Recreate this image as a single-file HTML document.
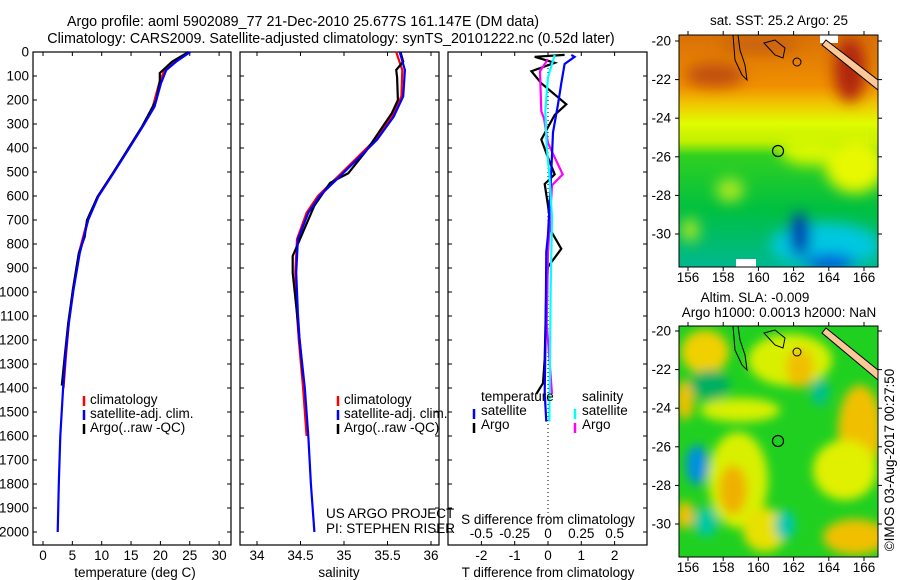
<!DOCTYPE html>
<html><head><meta charset="utf-8">
<style>
html,body{margin:0;padding:0;background:#fff;}
svg{display:block;font-family:"Liberation Sans",sans-serif;}
text{font-size:13.5px;fill:#000;}
</style></head>
<body>
<svg id="fig" width="900" height="580" viewBox="0 0 900 580" xmlns="http://www.w3.org/2000/svg">
<defs>
<filter id="blur1" x="-50%" y="-50%" width="200%" height="200%"><feGaussianBlur stdDeviation="7"/></filter>
<filter id="blur2" x="-50%" y="-50%" width="200%" height="200%"><feGaussianBlur stdDeviation="5"/></filter>
<clipPath id="clipm1"><rect x="679" y="35" width="199" height="232"/></clipPath>
<clipPath id="clipm2"><rect x="679" y="326" width="199" height="231"/></clipPath>
<linearGradient id="sstg" x1="0" y1="0" x2="0" y2="1">
<stop offset="0" stop-color="#d87008"/><stop offset="0.22" stop-color="#f09000"/>
<stop offset="0.3" stop-color="#f0c800"/><stop offset="0.38" stop-color="#e0fc00"/>
<stop offset="0.46" stop-color="#c0f000"/><stop offset="0.52" stop-color="#30d020"/>
<stop offset="0.75" stop-color="#00c040"/><stop offset="1" stop-color="#00b890"/>
</linearGradient>
</defs>
<text x="303" y="26" text-anchor="middle" style="font-size:14.3px">Argo profile: aoml 5902089_77 21-Dec-2010 25.677S 161.147E (DM data)</text>
<text x="331" y="43" text-anchor="middle" style="font-size:14.3px">Climatology: CARS2009. Satellite-adjusted climatology: synTS_20101222.nc (0.52d later)</text>

<!-- SST map -->
<g clip-path="url(#clipm1)">
<rect x="679" y="35" width="199" height="232" fill="url(#sstg)"/>
<g filter="url(#blur1)">
<ellipse cx="715" cy="75" rx="30" ry="12" fill="#c05010"/>
<ellipse cx="760" cy="45" rx="40" ry="8" fill="#c86010"/>
<ellipse cx="850" cy="70" rx="16" ry="32" fill="#b02808"/>
<ellipse cx="855" cy="165" rx="30" ry="28" fill="#e8f800"/>
<ellipse cx="810" cy="150" rx="30" ry="15" fill="#d8f800"/>
<ellipse cx="730" cy="190" rx="14" ry="12" fill="#a8e820"/>
<ellipse cx="690" cy="230" rx="9" ry="12" fill="#a8e820"/>
<ellipse cx="825" cy="245" rx="55" ry="22" fill="#00c8e0"/>
<ellipse cx="800" cy="235" rx="10" ry="22" fill="#0030b0"/>
<ellipse cx="830" cy="262" rx="25" ry="8" fill="#0050e0"/>
</g>
<rect x="736" y="259" width="20" height="8" fill="#fff"/>
<rect x="820" y="35" width="18" height="8" fill="#fff"/>
<path d="M826,40 L878,80 L878,90 L822,45 Z" fill="#fcc898" stroke="#000" stroke-width="1"/>
<path d="M733,35 L735,60 L742,75 L747,80 L745,65 L740,50 L738,35" fill="none" stroke="#000" stroke-width="1"/>
<path d="M764,43 L775,40 L785,48 L783,58 L775,55 Z" fill="none" stroke="#000" stroke-width="1"/>
<circle cx="797" cy="62" r="4" fill="none" stroke="#000"/>
<circle cx="778" cy="151" r="5.5" fill="none" stroke="#000" stroke-width="1.2"/>
</g>
<rect x="679" y="35" width="199" height="232" fill="none" stroke="#000"/>
<text x="779" y="25" text-anchor="middle">sat. SST: 25.2 Argo: 25</text>

<!-- SLA map -->
<g clip-path="url(#clipm2)">
<rect x="679" y="326" width="199" height="231" fill="#20d020"/>
<g filter="url(#blur2)">
<ellipse cx="705" cy="352" rx="24" ry="22" fill="#f0d000"/>
<ellipse cx="790" cy="360" rx="42" ry="26" fill="#d8f000"/>
<ellipse cx="800" cy="368" rx="14" ry="20" fill="#f0c000"/>
<ellipse cx="740" cy="410" rx="40" ry="12" fill="#d8f000"/>
<ellipse cx="860" cy="430" rx="22" ry="45" fill="#f0c000"/>
<ellipse cx="845" cy="470" rx="32" ry="30" fill="#e0f000"/>
<ellipse cx="738" cy="480" rx="30" ry="48" fill="#d8f000"/>
<ellipse cx="733" cy="490" rx="14" ry="25" fill="#f0b000"/>
<ellipse cx="765" cy="530" rx="22" ry="22" fill="#e8e000"/>
<ellipse cx="855" cy="537" rx="32" ry="18" fill="#f0c000"/>
<ellipse cx="685" cy="400" rx="9" ry="20" fill="#f0c000"/>
<ellipse cx="685" cy="515" rx="9" ry="14" fill="#f0c000"/>
<ellipse cx="697" cy="465" rx="11" ry="20" fill="#0090e0"/>
<ellipse cx="706" cy="522" rx="12" ry="15" fill="#00c8a0"/>
<ellipse cx="785" cy="525" rx="10" ry="15" fill="#00c8b0"/>
<ellipse cx="820" cy="392" rx="9" ry="14" fill="#00c090"/>
<ellipse cx="710" cy="385" rx="20" ry="15" fill="#00b060"/>
</g>
<path d="M826,328 L878,370 L878,380 L822,333 Z" fill="#fcc898" stroke="#000" stroke-width="1"/>
<path d="M733,326 L735,350 L742,365 L747,370 L745,355 L740,340 L738,326" fill="none" stroke="#000" stroke-width="1"/>
<path d="M764,333 L775,330 L785,338 L783,348 L775,345 Z" fill="none" stroke="#000" stroke-width="1"/>
<circle cx="797" cy="352" r="4" fill="none" stroke="#000"/>
<circle cx="778" cy="441" r="5.5" fill="none" stroke="#000" stroke-width="1.2"/>
</g>
<rect x="679" y="326" width="199" height="231" fill="none" stroke="#000"/>
<text x="755" y="302" text-anchor="middle">Altim. SLA: -0.009</text>
<text x="779" y="317" text-anchor="middle">Argo h1000: 0.0013 h2000: NaN</text>
<text transform="translate(894,460) rotate(-90)" text-anchor="middle">©IMOS 03-Aug-2017 00:27:50</text>

<g id="plots"></g>
</svg>
<script>
// ---- data ----
const tDepth = [0,40,75,130,228,310,408,505,603,700,839,991,1130,1269,1408,1600,1800,2000];
const tSat   = [25.1,22.7,21.0,20.1,19.0,17.0,14.5,12.0,9.4,7.7,6.25,5.2,4.4,3.8,3.4,2.95,2.7,2.5];
const tClimDepth = [0,40,75,130,228,310,408,505,603,700,839,991,1130,1269,1400];
const tClim  = [24.9,22.3,20.7,19.8,18.7,16.9,14.4,11.9,9.3,7.6,6.1,5.1,4.4,3.9,3.5];
const tArgoDepth = [0,40,88,120,200,310,408,505,603,700,770,839,991,1130,1269,1390];
const tArgo  = [24.8,22.0,19.9,19.9,19.3,16.9,14.4,11.9,9.3,7.5,7.1,6.1,5.1,4.3,3.7,3.2];

const sDepth = [0,75,185,270,365,505,600,670,780,920,1090,1200,1400,1600,1800,2000];
const sSat   = [35.64,35.70,35.68,35.57,35.38,34.99,34.72,34.59,34.47,34.45,34.47,34.49,34.55,34.59,34.62,34.66];
const sClimDepth = [0,75,185,270,365,505,600,670,780,920,1090,1200,1400,1600];
const sClim  = [35.60,35.67,35.66,35.55,35.36,34.97,34.70,34.57,34.46,34.44,34.46,34.48,34.53,34.57];
const sArgoDepth = [0,40,75,105,200,255,410,505,545,640,850,920,1090,1200,1350];
const sArgo  = [35.65,35.68,35.60,35.61,35.62,35.55,35.26,35.05,34.84,34.66,34.41,34.41,34.46,34.49,34.53];

const dDepthT = [12,20,50,130,218,335,498,762,833,1130,1423,1540];
const dTSat   = [0.7,0.8,0.5,0.4,0.3,0.15,0.1,0.0,-0.05,-0.07,-0.1,-0.05];
const dDepthTA = [12,20,45,80,130,218,262,365,440,510,550,640,748,820,895,985,1280,1380,1425];
const dTArgo  = [0.5,-0.4,0.2,-0.5,-0.2,0.55,0.2,-0.2,0.0,0.2,-0.1,0.0,0.1,0.4,0.0,-0.05,-0.1,-0.15,-0.35];
const dDepthS = [12,105,247,395,510,690,985,1540];
const dSSat   = [0.05,0.0,-0.02,-0.01,0.01,0.03,0.02,0.01];
const dDepthSA = [30,80,247,277,380,510,555,835,1130,1425];
const dSArgo  = [0.0,-0.06,-0.05,-0.03,0.0,0.11,0.03,0.0,-0.01,0.03];

const depthTicks = [0,100,200,300,400,500,600,700,800,900,1000,1100,1200,1300,1400,1500,1600,1700,1800,1900,2000];
const tTicks = [0,5,10,15,20,25,30];
const sTicks = [34,34.5,35,35.5,36];
const dTTicks = [-2,-1,0,1,2];
const dSTicks = [-0.5,-0.25,0,0.25,0.5];
const dSTickLabels = ["-0.5","-0.25","0","0.25","0.5"];

// ---- scales ----
const PT = 52, PB = 545;
const yD = d => PT + d*0.24;
const xT = v => 43 + v*5.87;
const xS = v => 257 + (v-34)*87;
const xDT = v => 548 + v*33.3;
const xDS = v => 548 + v*133.2;

const NS = "http://www.w3.org/2000/svg";
const root = document.getElementById('plots');
function mk(tag, attrs, parent){
  const e = document.createElementNS(NS, tag);
  for (const k in attrs) e.setAttribute(k, attrs[k]);
  (parent||root).appendChild(e);
  return e;
}
function line(xs, ys, xf, color, name, w){
  const pts = xs.map((v,i)=> xf(v).toFixed(1)+","+yD(ys[i]).toFixed(1)).join(" ");
  const p = mk('polyline', {points: pts, fill: 'none', stroke: color, 'stroke-width': w||2.2});
  
  
}
function panel(x0, x1, name){
  const r = mk('rect', {x:x0, y:PT, width:x1-x0, height:PB-PT, fill:'none', stroke:'#000', 'stroke-width':1.2});
  
  
  depthTicks.forEach(d=>{
    mk('line',{x1:x0,x2:x0+4,y1:yD(d),y2:yD(d),stroke:'#000'});
    mk('line',{x1:x1-4,x2:x1,y1:yD(d),y2:yD(d),stroke:'#000'});
  });
}
function xticks(ticks, labels, xf, x0, x1, ylab, name){
  ticks.forEach((t,i)=>{
    const x = xf(t);
    mk('line',{x1:x,x2:x,y1:PB,y2:PB-4,stroke:'#000'});
    mk('line',{x1:x,x2:x,y1:PT,y2:PT+4,stroke:'#000'});
    const tx = mk('text',{x:x, y:ylab, 'text-anchor':'middle'});
    tx.textContent = labels[i];
    
    
  });
}
function txt(x,y,s,name,anchor){
  const t = mk('text',{x:x,y:y,'text-anchor':anchor||'start'});
  t.textContent = s;
  
  
}
function legendMark(x,y,color){
  const l = mk('line',{x1:x,x2:x,y1:y-10,y2:y,stroke:color,'stroke-width':2.5});
  
  
}

// Panel 1 temperature
panel(33,231,'temperature-panel');
depthTicks.forEach(d=>{
  const t = mk('text',{x:29,y:yD(d)+4.5,'text-anchor':'end'});
  t.textContent = d;
  
  
});
xticks(tTicks, tTicks.map(String), xT, 33, 231, 560, 'temperature-tick-label');
txt(135,577,'temperature (deg C)','temperature-axis-title','middle');
line(tClim, tClimDepth, xT, '#ff0000', 'temperature-climatology-line');
line(tArgo, tArgoDepth, xT, '#000000', 'temperature-argo-line');
line(tSat, tDepth, xT, '#0000ff', 'temperature-satellite-line');
legendMark(84,406,'#ff0000'); txt(90,404,'climatology','legend-climatology');
legendMark(84,420,'#0000ff'); txt(90,418,'satellite-adj. clim.','legend-satellite');
legendMark(84,434,'#000000'); txt(90,432,'Argo(..raw -QC)','legend-argo');

// Panel 2 salinity
panel(240,439,'salinity-panel');
xticks(sTicks, sTicks.map(String), xS, 240, 439, 560, 'salinity-tick-label');
txt(339,577,'salinity','salinity-axis-title','middle');
line(sClim, sClimDepth, xS, '#ff0000', 'salinity-climatology-line');
line(sArgo, sArgoDepth, xS, '#000000', 'salinity-argo-line');
line(sSat, sDepth, xS, '#0000ff', 'salinity-satellite-line');
legendMark(338,406,'#ff0000'); txt(344,404,'climatology','legend-climatology');
legendMark(338,420,'#0000ff'); txt(344,418,'satellite-adj. clim.','legend-satellite');
legendMark(338,434,'#000000'); txt(344,432,'Argo(..raw -QC)','legend-argo');
txt(326,518,'US ARGO PROJECT','credit-project');
txt(326,533,'PI: STEPHEN RISER','credit-pi');

// Panel 3 differences
panel(448,647,'difference-panel');
mk('line',{x1:xDT(0),x2:xDT(0),y1:PT,y2:PB-20,stroke:'#000','stroke-dasharray':'1,3'});
xticks(dTTicks, dTTicks.map(String), xDT, 448, 647, 560, 'tdiff-tick-label');
dSTicks.forEach((t,i)=>{
  const x = xDS(t);
  const tx = mk('text',{x:x,y:538,'text-anchor':'middle'});
  tx.textContent = dSTickLabels[i];
  
  
});
txt(548,524,'S difference from climatology','sdiff-axis-title','middle');
txt(548,577,'T difference from climatology','tdiff-axis-title','middle');
line(dTArgo, dDepthTA, xDT, '#000000', 'tdiff-argo-line');
line(dSArgo, dDepthSA, xDS, '#ff00ff', 'sdiff-argo-line');
line(dTSat, dDepthT, xDT, '#0000ff', 'tdiff-satellite-line');
line(dSSat, dDepthS, xDS, '#00ffff', 'sdiff-satellite-line');
txt(481,401,'temperature','legend-temperature-header');
legendMark(474,419,'#0000ff'); txt(481,415,'satellite','legend-tdiff-satellite');
legendMark(474,433,'#000000'); txt(481,429,'Argo','legend-tdiff-argo');
txt(582,401,'salinity','legend-salinity-header');
legendMark(575,419,'#00ffff'); txt(582,415,'satellite','legend-sdiff-satellite');
legendMark(575,433,'#ff00ff'); txt(582,429,'Argo','legend-sdiff-argo');

// Map axes
const mapXTicks = [156,158,160,162,164,166];
const mapYTicks = [-20,-22,-24,-26,-28,-30];
const mxf = v => 688 + (v-156)*17.6;
function mapAxes(top, bot, y20, name){
  mapXTicks.forEach(v=>{
    const x = mxf(v);
    mk('line',{x1:x,x2:x,y1:bot,y2:bot+4,stroke:'#000'});
    mk('line',{x1:x,x2:x,y1:top,y2:top-4,stroke:'#000'});
    const t = mk('text',{x:x,y:bot+15,'text-anchor':'middle'});
    t.textContent = v;
    
    
  });
  mapYTicks.forEach(v=>{
    const y = y20 + (-20-v)*19.3;
    mk('line',{x1:675,x2:679,y1:y,y2:y,stroke:'#000'});
    mk('line',{x1:878,x2:882,y1:y,y2:y,stroke:'#000'});
    const t = mk('text',{x:671,y:y+4.5,'text-anchor':'end'});
    t.textContent = v;
    
    
  });
}
mapAxes(35,267,41,'sst-map');
mapAxes(326,557,331,'sla-map');
</script>
</body></html>
